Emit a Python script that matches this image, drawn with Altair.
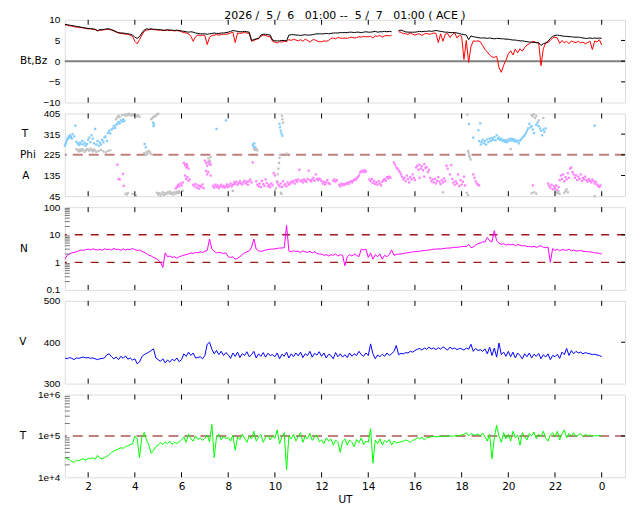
import altair as alt
import pandas as pd

FONT = "DejaVu Sans"
W, H = 562, 83
NB = "\u00a0"
TITLE = f"2026 /{NB}{NB}5 /{NB}{NB}6{NB}{NB}{NB}01:00 --{NB}{NB}5 /{NB}{NB}7{NB}{NB}{NB}01:00 ( ACE )"

# time grid (UT hours, 6-minute samples from 01:00 to 24:00)
HOURS = [round(1 + 0.1 * i, 1) for i in range(231)]

BT = [
8.9,8.8,8.7,8.6,8.5,8.4,8.3,8.2,8.1,8.0,
7.9,7.9,7.8,7.7,7.4,7.6,7.6,7.7,7.8,7.8,
7.6,7.4,7.1,6.9,6.8,6.8,6.7,6.6,6.5,6.3,
5.8,5.5,5.9,6.8,7.5,7.8,7.7,7.8,7.7,7.7,
7.6,7.6,7.5,7.5,7.6,7.5,7.5,7.4,7.5,7.4,
7.3,7.2,7.1,7.0,7.1,7.0,6.8,6.7,6.6,6.6,
6.6,6.5,6.6,6.7,6.8,6.7,6.7,6.8,6.8,6.9,
7.0,7.2,7.4,7.3,7.2,7.1,7.1,7.2,7.1,7.0,
5.0,5.2,5.4,5.5,6.3,6.5,6.5,6.4,6.3,5.1,
4.9,4.9,4.9,5.0,5.0,4.9,6.3,6.4,6.4,6.3,
6.3,6.2,6.3,6.4,6.3,6.3,6.4,6.5,6.6,6.6,
6.6,6.6,6.7,6.6,6.7,6.8,6.8,6.8,6.9,6.9,
6.9,6.9,7.0,7.0,6.9,7.0,7.0,6.9,7.0,7.1,
7.0,7.0,7.1,7.2,7.0,7.1,7.1,7.2,7.1,7.2,
7.1,None,None,7.4,7.5,7.3,7.1,7.0,7.0,7.0,
7.0,7.1,7.2,7.1,7.2,7.2,7.3,7.2,7.3,7.4,
7.3,7.2,7.1,7.0,7.0,6.9,6.9,6.9,6.8,6.7,
6.5,6.4,6.3,5.2,6.1,5.9,5.8,5.7,5.6,5.6,
5.6,5.5,5.6,5.5,5.4,5.5,5.5,5.4,5.4,5.3,
5.3,5.2,5.1,5.1,5.0,4.9,4.9,4.8,4.7,4.6,
4.6,4.5,4.5,4.4,3.8,4.2,4.4,4.8,5.5,6.0,
6.2,6.3,6.2,6.1,6.0,6.0,5.9,5.9,5.8,5.8,
5.8,5.7,5.6,5.5,5.5,5.6,5.5,5.6,5.5,5.6,
5.5]

BZ = [
8.8,8.7,8.5,8.5,8.3,8.2,8.2,8.1,8.0,7.9,
7.8,7.8,7.7,7.6,7.3,7.5,7.5,7.6,7.7,7.7,
7.5,7.3,7.0,6.8,6.7,6.6,6.5,6.5,6.3,6.0,
4.8,4.2,5.2,6.3,7.2,7.5,7.6,7.7,7.6,7.6,
7.5,7.5,7.4,7.4,7.5,7.4,7.4,7.3,7.4,7.3,
7.1,6.9,6.8,6.6,6.0,4.8,5.9,6.3,6.2,6.3,
6.2,4.0,5.8,6.2,6.3,6.4,6.3,6.4,6.5,6.5,
6.6,6.8,7.0,4.5,6.8,6.7,6.8,6.9,6.8,6.7,
4.8,5.0,5.3,5.4,6.0,6.3,6.2,6.0,5.9,4.8,
4.6,4.4,4.7,4.6,4.8,4.7,5.2,5.0,5.3,5.1,
4.9,5.2,4.8,5.3,5.0,4.6,5.1,5.2,4.9,4.7,
4.7,4.9,4.8,5.0,5.5,5.6,5.4,5.7,5.6,5.5,
5.6,5.5,5.7,5.8,5.6,5.7,5.9,5.8,6.0,5.9,
5.9,6.0,5.6,6.1,6.0,6.2,5.8,6.1,6.2,6.1,
6.3,None,None,7.1,7.0,6.6,6.7,6.4,6.8,6.5,
6.3,6.5,6.6,6.2,6.6,6.7,6.5,6.6,6.8,6.7,
4.5,6.6,4.8,6.5,6.7,5.7,6.4,6.9,5.6,6.3,
6.0,0.4,5.0,-0.3,3.5,4.9,4.8,4.9,4.7,3.8,
2.8,2.2,1.5,1.0,0.9,1.2,-1.5,-2.7,-1.0,0.2,
1.8,2.5,1.5,2.9,2.0,3.0,2.4,3.3,3.9,4.2,
4.6,4.8,4.4,4.5,-1.1,3.0,4.4,4.5,5.0,5.6,
5.8,5.6,4.3,5.0,4.4,4.8,4.2,4.9,4.6,4.5,
4.8,4.4,4.6,4.2,4.5,4.8,2.8,4.9,4.6,5.2,
3.9]

DENS = [
1.3,1.8,2.0,2.2,2.3,2.4,2.6,2.8,2.7,2.9,
3.0,2.8,3.1,2.9,2.8,3.0,2.7,3.1,2.9,3.0,
2.8,3.2,2.9,3.0,2.7,3.1,2.8,3.0,2.9,3.2,
2.9,2.7,2.8,2.5,2.3,2.1,1.8,1.7,1.5,1.4,
1.2,1.0,0.65,2.2,1.6,1.7,1.5,1.6,1.4,1.6,
1.7,1.8,1.9,2.0,2.2,2.1,2.3,2.2,2.4,2.3,
2.5,2.7,7.0,3.0,2.5,2.2,2.3,2.2,2.1,2.2,
1.6,1.5,1.6,1.3,1.4,1.6,1.9,2.2,2.4,2.6,
3.5,7.0,3.0,2.6,2.5,2.6,2.8,2.9,3.0,3.0,
3.1,3.2,3.3,3.3,3.4,22,2.6,2.4,2.6,2.5,
2.5,2.3,2.6,2.4,2.3,2.5,2.2,2.4,2.1,2.0,
2.0,1.8,1.9,1.7,1.9,1.8,2.0,1.7,1.9,1.8,
0.75,1.6,1.9,1.7,2.0,1.8,1.6,3.0,2.8,3.0,
1.5,2.2,1.3,1.9,1.6,2.0,1.3,1.8,1.6,1.9,
2.8,1.8,1.9,2.0,2.0,2.1,2.2,2.2,2.3,2.4,
2.4,2.5,2.5,2.6,2.7,2.7,2.8,2.9,3.0,3.0,
3.1,3.0,3.2,3.2,3.3,3.3,3.4,3.5,3.5,3.6,
3.7,3.8,3.7,4.5,3.4,3.6,4.2,4.8,5.0,5.5,
5.5,8.0,6.0,5.5,14,6.0,5.0,4.5,4.8,4.2,
4.5,4.3,4.6,4.0,4.4,4.2,3.9,4.1,3.7,3.8,
3.6,3.8,3.5,3.7,4.0,3.5,3.4,3.6,1.0,3.2,
2.7,3.0,2.6,2.9,2.8,2.7,3.0,2.6,2.8,2.6,
2.6,2.7,2.5,2.5,2.4,2.4,2.3,2.2,2.2,2.1,
2.0]

SPEED = [
362,360,363,361,358,362,361,363,364,362,
363,361,362,360,358,360,361,362,370,372,
365,360,364,358,366,361,367,359,362,357,
360,348,352,365,370,373,376,380,384,362,
358,354,360,350,357,352,359,355,362,353,
358,372,366,376,368,374,362,363,365,360,
368,395,400,383,372,380,370,378,368,375,
370,361,374,366,376,363,372,368,377,365,
370,378,362,372,366,375,364,373,368,370,
365,374,360,371,366,376,362,372,365,374,
367,376,363,372,368,378,364,373,369,377,
366,374,362,371,368,360,375,365,372,364,
370,363,374,366,372,368,378,370,366,374,
368,396,372,360,369,365,371,366,374,368,
372,378,392,370,373,372,375,374,378,376,
380,383,385,381,386,383,388,384,386,382,
387,383,389,385,381,388,384,386,382,385,
384,381,386,383,395,378,385,380,382,378,
384,372,388,368,386,364,398,370,376,366,
378,365,376,362,374,368,360,372,365,374,
362,371,366,373,360,370,364,372,358,368,
365,371,361,376,370,385,368,380,372,378,
374,376,372,375,373,372,370,371,369,368,
365]

# temperature in thousands of K
TEMP_K = [
30,28,27,24,23,26,25,27,28,26,
29,28,30,27,34,29,28,30,32,35,
40,43,46,48,52,50,55,58,62,64,
100,85,30,95,120,80,60,38,45,55,
60,68,62,72,65,75,63,70,66,72,
80,95,70,110,85,75,100,82,90,78,
88,105,72,190,30,95,110,80,100,85,
92,75,105,45,95,82,110,88,70,100,
85,130,75,95,110,70,90,105,80,98,
88,140,65,95,120,15,100,85,110,75,
95,120,70,100,85,115,78,95,105,72,
80,65,90,75,85,60,80,70,40,75,
85,60,80,70,55,82,68,90,62,75,
70,150,22,80,65,85,60,78,70,82,
60,75,68,70,72,75,80,76,70,78,
82,90,85,95,80,90,92,95,97,95,
98,96,100,97,99,100,98,102,100,103,
105,110,120,100,115,108,105,112,100,118,
95,75,110,28,90,180,100,70,120,85,
110,75,130,90,105,60,120,95,80,115,
100,125,85,110,95,130,90,75,105,120,
95,130,80,110,140,90,115,100,120,95,
105,115,95,110,100,105,98,102,100,103,
100]

ANG_T = [(1.0,265),(1.03,272),(1.06,280),(1.1,290),(1.13,297),(1.16,305),(1.2,300),(1.23,310),
(1.26,302),(1.3,296),(1.33,315),(1.4,305),(1.45,352),(1.5,282),(1.55,275),(1.6,268),(1.65,278),
(1.7,272),(1.75,285),(1.8,270),(1.85,278),(1.9,265),(1.95,272),(2.0,290),(2.05,300),(2.1,280),
(2.15,310),(2.2,295),(2.25,275),(2.3,338),(2.35,270),(2.4,285),(2.45,265),(2.5,278),(2.55,270),
(2.6,290),(2.65,280),(2.7,300),(2.75,305),(2.8,285),(2.85,320),(2.9,330),(2.95,318),(3.0,335),
(3.05,340),(3.1,350),(3.15,342),(3.2,355),(3.25,360),(3.3,368),(3.35,362),(3.4,375),(3.45,370),
(3.5,380),(3.55,372),(4.42,272),(4.47,258),(4.78,365),(4.8,350),(4.82,358),(7.5,338),(7.9,375),
(9.05,270),(9.08,262),(9.12,275),(9.16,258),(10.2,360),(10.22,345),(10.25,330),(10.28,318),(10.32,308),
(18.32,359),(18.5,300),(18.72,332),(18.8,362),(18.75,285),(18.82,270),(18.85,280),(18.9,290),
(18.95,275),(19.0,285),(19.05,270),(19.1,292),(19.15,280),(19.2,295),(19.25,285),(19.3,298),
(19.35,290),(19.4,302),(19.45,288),(19.5,310),(19.55,295),(19.6,300),(19.65,290),(19.7,295),
(19.75,285),(19.8,290),(19.85,282),(19.9,288),(19.95,280),(20.0,292),(20.05,286),(20.1,296),
(20.15,288),(20.2,294),(20.25,284),(20.3,290),(20.35,282),(20.4,286),(20.45,275),(20.5,288),
(20.55,292),(20.6,300),(20.65,305),(20.7,310),(20.75,320),(20.8,330),(20.85,340),(20.9,360),
(20.95,345),(21.0,350),(21.05,335),(21.1,320),(21.2,355),(21.25,365),(21.3,350),(21.35,340),
(21.4,330),(21.45,310),(21.5,335),(21.55,325),(21.6,340),(23.7,352)]

ANG_GRAY = [(1.5,250),(1.55,245),(1.6,240),(1.65,248),(1.7,242),(1.75,250),(1.8,245),(1.85,238),
(1.9,244),(1.95,250),(2.0,248),(2.05,243),(2.1,252),(2.15,246),(2.2,240),(2.25,248),(2.3,244),
(2.35,238),(2.45,242),(2.55,246),(2.65,240),(2.75,236),(2.85,242),(2.95,245),
(3.2,380),(3.25,388),(3.3,395),(3.35,390),(3.45,398),(3.55,400),(3.6,395),(3.65,402),(3.7,398),
(3.75,404),(3.8,400),(3.85,395),(3.9,402),(3.95,398),(4.0,400),(4.05,395),(4.1,392),(4.15,398),(4.2,390),
(3.6,56),(3.65,52),(3.7,58),(3.9,55),(4.05,48),
(4.4,232),(4.45,226),(4.5,238),(4.55,230),(4.6,242),(4.65,236),(4.7,228),
(4.7,380),(4.75,385),(4.8,390),(4.85,392),(4.9,396),(4.95,400),(5.0,404),
(4.95,60),(5.0,52),(5.05,58),(5.1,48),(5.15,56),(5.2,62),(5.25,50),(5.3,58),(5.35,54),(5.4,62),
(5.45,58),(5.5,65),(5.55,55),(5.6,60),(5.65,52),(5.7,62),(5.75,56),(5.8,64),(5.85,58),(5.9,66),
(5.95,60),(6.05,68),(7.15,210),(7.2,200),(7.22,195),(7.25,215),(8.2,68),
(9.1,252),(9.15,246),(9.2,250),(9.25,244),
(10.0,70),(10.05,80),(10.1,110),(10.12,140),(10.15,165),(10.18,190),(10.2,212),(10.22,225),
(10.25,60),(10.28,55),(10.3,395),(10.32,380),(10.35,365),(10.5,230),
(18.25,400),(18.28,242),(18.3,232),(18.32,222),(18.35,215),(18.38,205),(18.22,60),(18.27,50),
(20.1,250),(17.2,62),
(21.0,398),(21.05,392),(21.1,402),(21.15,385),(21.2,395),(21.3,375),(21.5,385),(21.0,58),(21.1,62),(21.2,56),
(22.0,70),(22.05,62),(22.1,58),(22.15,65),(22.2,55),(22.4,60),(22.45,68),(22.5,75),(22.55,62),(23.7,45)]

ANG_A = [(3.25,182),(3.3,120),(3.35,118),(3.5,142),(3.52,90),
(5.75,78),(5.8,85),(5.85,95),(5.9,88),(5.95,100),(6.0,92),(6.05,105),
(6.1,190),(6.15,180),(6.2,170),(6.22,185),(6.25,175),(6.3,165),(6.15,135),(6.2,120),(6.25,128),(6.3,112),(6.35,118),
(6.5,95),(6.55,88),(6.6,98),(6.65,82),(6.7,92),(6.75,78),(6.8,90),(6.85,85),(6.9,96),(6.95,80),
(7.0,200),(7.05,190),(7.1,178),(7.15,195),(7.2,185),(7.25,182),(7.05,155),(7.1,140),(7.15,150),(7.25,135),
(7.35,90),(7.4,82),(7.45,95),(7.5,85),(7.55,92),(7.6,80),(7.65,88),(7.7,95),(7.75,85),(7.8,90),
(7.85,82),(7.9,88),(7.95,96),(8.0,85),(8.05,92),(8.1,100),(8.15,88),(8.2,95),
(8.25,105),(8.3,98),(8.35,108),(8.4,95),(8.45,102),(8.5,110),(8.55,100),(8.6,96),(8.65,105),
(8.7,112),(8.75,100),(8.8,108),(8.85,95),(8.9,110),(8.95,118),(9.0,105),(9.05,192),
(9.2,110),(9.25,95),(9.3,88),(9.35,100),(9.4,85),(9.45,112),(9.5,98),(9.55,90),(9.6,118),
(9.65,102),(9.7,88),(9.75,95),(9.8,84),(9.85,100),(9.9,92),(9.95,145),(10.0,135),
(10.1,105),(10.15,95),(10.2,88),(10.25,100),(10.3,85),(10.35,110),(10.4,92),(10.45,98),(10.5,88),
(10.55,105),(10.6,95),(10.65,100),(10.7,108),(10.75,105),(10.8,112),(10.85,100),(10.9,115),
(10.95,108),(11.0,118),(11.05,160),(11.1,110),(11.15,115),(11.2,105),(11.25,118),(11.3,112),
(11.35,108),(11.4,120),(11.45,156),(11.5,115),(11.55,110),(11.6,118),(11.65,125),(11.7,112),
(11.75,140),(11.8,120),(11.85,115),(11.9,122),(11.95,118),(12.0,110),(12.05,100),(12.1,108),
(12.15,96),(12.2,105),(12.25,115),(12.3,102),(12.35,98),
(12.5,112),(12.55,118),(12.6,108),(12.65,115),
(12.75,95),(12.8,88),(12.85,100),(12.9,92),(12.95,98),(13.0,95),(13.05,100),(13.1,104),(13.15,98),
(13.2,106),(13.25,110),(13.3,105),(13.35,112),(13.4,118),(13.45,115),(13.5,122),(13.55,128),
(13.6,135),(13.65,148),(13.7,152),(13.75,156),(13.8,150),(13.85,158),(13.9,152),
(14.05,118),(14.1,110),(14.15,120),(14.2,102),(14.25,112),(14.3,98),(14.35,106),(14.4,95),
(14.45,110),(14.5,100),(14.55,92),(14.6,108),(14.65,115),(14.7,120),(14.75,112),(14.8,128),
(14.85,122),(14.9,130),(14.95,125),
(15.1,192),(15.15,182),(15.2,170),(15.25,165),(15.3,158),(15.35,150),
(15.4,140),(15.45,130),(15.5,118),(15.55,125),(15.6,110),(15.65,135),(15.7,120),(15.75,105),
(15.8,128),(15.85,118),(15.9,140),(15.95,125),(16.0,115),
(16.05,170),(16.1,178),(16.15,160),(16.2,182),(16.25,165),(16.3,175),(16.35,158),(16.4,185),
(16.45,168),(16.5,172),(16.55,150),(16.6,160),(16.2,125),(16.4,130),
(16.65,125),(16.7,110),(16.75,118),(16.8,105),(16.85,120),(16.9,100),(16.95,112),(17.0,128),
(17.05,108),(17.1,98),(17.15,115),(17.2,105),(17.25,122),(17.3,110),
(17.35,178),(17.4,165),(17.5,140),(17.55,180),
(17.6,120),(17.65,105),(17.7,95),(17.75,110),(17.8,100),(17.85,140),(17.9,88),(17.95,115),
(18.0,95),(18.05,108),(18.1,130),(18.15,92),
(18.5,140),(18.55,125),(18.6,110),(18.65,100),(18.7,95),(18.75,92),(21.05,92),
(21.7,100),(21.75,90),(21.8,82),(21.85,95),(21.9,75),(21.95,88),(22.0,80),(22.05,92),(22.1,72),(22.15,85),
(22.2,115),(22.25,135),(22.3,120),(22.35,140),(22.4,110),(22.45,128),(22.5,118),(22.55,145),
(22.6,125),(22.65,165),(22.7,170),(22.75,150),
(22.8,140),(22.85,125),(22.9,135),(22.95,115),(23.0,130),(23.05,120),(23.1,140),(23.15,112),
(23.2,125),(23.25,118),(23.3,130),
(23.35,115),(23.4,108),(23.45,120),(23.5,112),(23.55,105),(23.6,118),(23.65,110),(23.7,100),
(23.75,108),(23.8,96),(23.85,90),(23.9,85),(23.95,92)]

X_TICKS = [2, 4, 6, 8, 10, 12, 14, 16, 18, 20, 22, 24]
LBL = 10.5

xscale = alt.Scale(domain=[1, 25], nice=False, zero=False)


def series_df(vals, scale=1.0):
    df = pd.DataFrame({"h": HOURS, "v": vals})
    df["seg"] = df["v"].isna().cumsum()
    df = df.dropna().copy()
    df["v"] = df["v"] * scale
    return df


def pts_df(pairs):
    return pd.DataFrame(pairs, columns=["h", "v"])


def yaxis(values, **kw):
    return alt.Axis(values=values, title=None, ticks=False, tickSize=0, domain=False,
                    grid=False, labelPadding=5, **kw)


def build_panel(yscale, yax, xax, data_layers, right_vals, minor, texts):
    X = lambda: alt.X("h:Q", scale=xscale, axis=xax)
    Y = lambda: alt.Y("v:Q", scale=yscale, axis=yax)
    layers = []
    for ch, extra in data_layers:
        enc = {"y": Y()}
        if extra.get("x", True):
            enc["x"] = X()
        if "detail" in extra:
            enc["detail"] = extra["detail"]
        layers.append(ch.encode(**enc))
    xt = pd.DataFrame({"h": X_TICKS})
    layers.append(alt.Chart(xt).mark_rule(color="black", strokeWidth=1).encode(
        x=X(), y=alt.value(0), y2=alt.value(5)))
    layers.append(alt.Chart(xt).mark_rule(color="black", strokeWidth=1).encode(
        x=X(), y=alt.value(H - 5), y2=alt.value(H)))
    layers.append(alt.Chart(pd.DataFrame({"v": right_vals})).mark_rule(color="black", strokeWidth=1).encode(
        y=Y(), x=alt.value(W - 4), x2=alt.value(W)))
    if minor:
        layers.append(alt.Chart(pd.DataFrame({"v": minor})).mark_rule(color="#777777", strokeWidth=1).encode(
            y=Y(), x=alt.value(0), x2=alt.value(5)))
    for (t, v, xo, al) in texts:
        layers.append(alt.Chart(pd.DataFrame({"v": [v], "t": [t]})).mark_text(
            align=al, baseline="middle", font=FONT, fontSize=LBL, color="black").encode(
            x=alt.value(xo), y=Y(), text="t:N"))
    return alt.layer(*layers).properties(width=W, height=H)


# ---------- panel 1 : Bt, Bz
s1 = alt.Scale(domain=[-10, 10], nice=False, zero=False)
p1 = build_panel(
    s1, yaxis([-10, -5, 0, 5, 10]), None,
    [
        (alt.Chart(pd.DataFrame({"v": [0]})).mark_rule(color="#808080", strokeWidth=2), {"x": False}),
        (alt.Chart(series_df(BZ)).mark_line(color="#ff0000", strokeWidth=1, clip=True), {"detail": "seg:N"}),
        (alt.Chart(series_df(BT)).mark_line(color="#000000", strokeWidth=1, clip=True), {"detail": "seg:N"}),
    ],
    [-5, 0, 5], None, [("Bt,Bz", 0, -45, "left")],
).properties(title=alt.Title(TITLE, font=FONT, fontSize=11, fontWeight="normal", color="black",
                             anchor="middle", offset=-6, frame="group"))

# ---------- panel 2 : angles
s2 = alt.Scale(domain=[45, 405], nice=False, zero=False)
p2 = build_panel(
    s2, yaxis([45, 135, 225, 315, 405]), None,
    [
        (alt.Chart(pd.DataFrame({"v": [225]})).mark_rule(color="#c08080", strokeWidth=2, strokeDash=[10, 6]), {"x": False}),
        (alt.Chart(pts_df(ANG_GRAY)).mark_square(color="#c0c0c0", size=5, opacity=1), {}),
        (alt.Chart(pts_df(ANG_T)).mark_square(color="#80ccff", size=5, opacity=1), {}),
        (alt.Chart(pts_df(ANG_A)).mark_square(color="#ff80ff", size=5, opacity=1), {}),
    ],
    [135, 225, 315], None,
    [("T", 315, -40, "center"), ("Phi", 225, -37, "center"), ("A", 135, -39, "center")],
)

# ---------- panel 3 : N
s3 = alt.Scale(type="log", domain=[0.1, 100], nice=False)
minor3 = [0.2, 0.3, 0.4, 0.5, 0.6, 0.7, 0.8, 0.9, 2, 3, 4, 5, 6, 7, 8, 9, 20, 30, 40, 50, 60, 70, 80, 90]
p3 = build_panel(
    s3, yaxis([0.1, 1, 10, 100], format="~g"), None,
    [
        (alt.Chart(pd.DataFrame({"v": [1, 10]})).mark_rule(color="#a01818", strokeWidth=1.3, strokeDash=[8, 8]), {"x": False}),
        (alt.Chart(series_df(DENS)).mark_line(color="#ff00ff", strokeWidth=1, clip=True), {"detail": "seg:N"}),
    ],
    [1, 10], minor3, [("N", 3.16, -41, "center")],
)

# ---------- panel 4 : V
s4 = alt.Scale(domain=[300, 500], nice=False, zero=False)
p4 = build_panel(
    s4, yaxis([300, 400, 500]), None,
    [
        (alt.Chart(series_df(SPEED)).mark_line(color="#0000ff", strokeWidth=1, clip=True), {"detail": "seg:N"}),
    ],
    [400], None, [("V", 400, -42, "center")],
)

# ---------- panel 5 : T
s5 = alt.Scale(type="log", domain=[1e4, 1e6], nice=False)
minor5 = [2e4, 3e4, 4e4, 5e4, 6e4, 7e4, 8e4, 9e4, 2e5, 3e5, 4e5, 5e5, 6e5, 7e5, 8e5, 9e5]
xax5 = alt.Axis(values=X_TICKS, title="UT", ticks=False, tickSize=0, domain=False, grid=False,
                labelPadding=4, titlePadding=3, labelFontSize=LBL, titleFontSize=LBL,
                titleFontWeight="normal", labelFont=FONT, titleFont=FONT,
                labelExpr="datum.value == 24 ? '0' : datum.value")
p5 = build_panel(
    s5, yaxis([1e4, 1e5, 1e6], labelExpr="'1e+' + format(log(datum.value)/LN10, '.0f')"), xax5,
    [
        (alt.Chart(pd.DataFrame({"v": [1e5]})).mark_rule(color="#c08080", strokeWidth=2, strokeDash=[10, 6]), {"x": False}),
        (alt.Chart(series_df(TEMP_K, 1000.0)).mark_line(color="#00ff00", strokeWidth=1, clip=True), {"detail": "seg:N"}),
    ],
    [1e5], minor5, [("T", 1e5, -42, "center")],
)

chart = alt.vconcat(p1, p2, p3, p4, p5, spacing=11, bounds="flush").properties(
    padding={"left": 10, "top": 0, "right": 5, "bottom": 5}
).configure_view(stroke="black", strokeWidth=1).configure_axis(
    labelFont=FONT, labelFontSize=LBL, labelColor="black",
    titleFont=FONT, titleFontSize=LBL, titleColor="black", titleFontWeight="normal"
).configure(background="white")

chart.save("out.html", embed_options={"renderer": "svg", "actions": False})
